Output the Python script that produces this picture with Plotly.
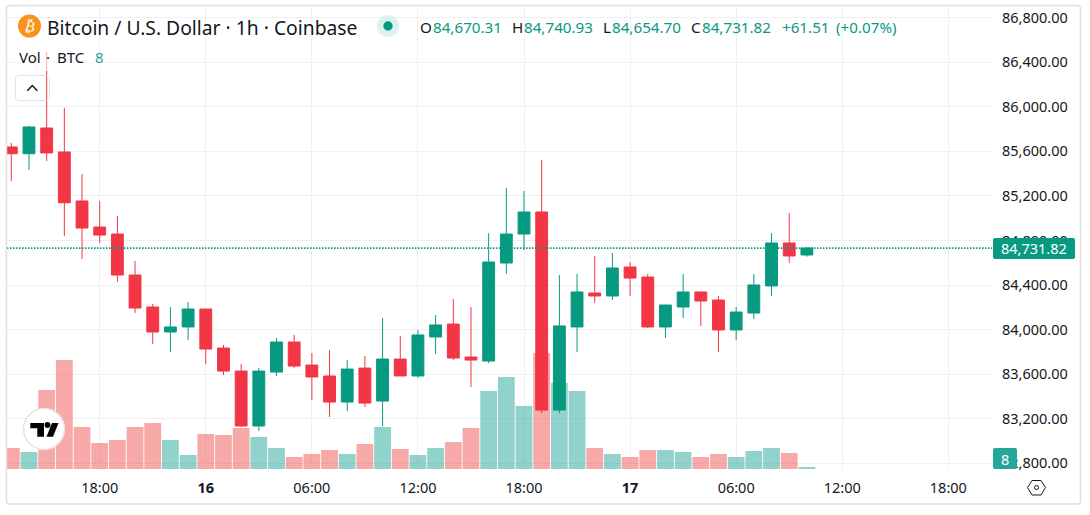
#!/usr/bin/env python
# coding: utf-8

import plotly.graph_objects as go

### Data ###
hours = [
    "2025-03-15 13:00", "2025-03-15 14:00", "2025-03-15 15:00", "2025-03-15 16:00", "2025-03-15 17:00",
    "2025-03-15 18:00", "2025-03-15 19:00", "2025-03-15 20:00", "2025-03-15 21:00", "2025-03-15 22:00",
    "2025-03-15 23:00", "2025-03-16 00:00", "2025-03-16 01:00", "2025-03-16 02:00", "2025-03-16 03:00",
    "2025-03-16 04:00", "2025-03-16 05:00", "2025-03-16 06:00", "2025-03-16 07:00", "2025-03-16 08:00",
    "2025-03-16 09:00", "2025-03-16 10:00", "2025-03-16 11:00", "2025-03-16 12:00", "2025-03-16 13:00",
    "2025-03-16 14:00", "2025-03-16 15:00", "2025-03-16 16:00", "2025-03-16 17:00", "2025-03-16 18:00",
    "2025-03-16 19:00", "2025-03-16 20:00", "2025-03-16 21:00", "2025-03-16 22:00", "2025-03-16 23:00",
    "2025-03-17 00:00", "2025-03-17 01:00", "2025-03-17 02:00", "2025-03-17 03:00", "2025-03-17 04:00",
    "2025-03-17 05:00", "2025-03-17 06:00", "2025-03-17 07:00", "2025-03-17 08:00", "2025-03-17 09:00",
    "2025-03-17 10:00",
]
opens = [85640, 85579, 85810, 85595, 85155, 84921, 84858, 84490, 84203, 83979, 84024, 84185, 83835, 83628, 83135, 83619,
         83889, 83682, 83584, 83350, 83655, 83359, 83736, 83584, 83934, 84050, 83754, 83718, 84598, 84858, 85056, 83278,
         84024, 84329, 84302, 84562, 84472, 84024, 84203, 84338, 84266, 83997, 84149, 84392, 84778, 84670.31]
highs = [85675, 85828, 86492, 85990, 85397, 85155, 85020, 84616, 84230, 84203, 84248, 84185, 83862, 83691, 83655, 83925,
         83952, 83790, 83817, 83727, 83763, 84104, 83943, 83997, 84131, 84275, 84203, 84867, 85271, 85244, 85523, 84490,
         84499, 84661, 84688, 84607, 84499, 84221, 84499, 84338, 84302, 84203, 84499, 84867, 85047, 84740.93]
lows = [85334, 85433, 85514, 84840, 84634, 84778, 84428, 84149, 83871, 83799, 83907, 83691, 83593, 83126, 83090, 83584,
        83655, 83368, 83216, 83269, 83305, 83135, 83584, 83566, 83781, 83727, 83485, 83700, 84499, 84715, 83251, 83251,
        83799, 84239, 84266, 84302, 84015, 83925, 84104, 84033, 83799, 83907, 84095, 84302, 84598, 84654.70]
closes = [85579, 85819, 85586, 85139, 84912, 84849, 84490, 84194, 83979, 84024, 84185, 83826, 83628, 83135, 83628, 83889,
          83673, 83575, 83350, 83646, 83341, 83736, 83584, 83952, 84042, 83745, 83727, 84607, 84858, 85056, 83278, 84033,
          84338, 84302, 84553, 84463, 84024, 84221, 84338, 84257, 83997, 84158, 84401, 84778, 84661, 84731.82]
volumes = [84, 68, 316, 436, 168, 104, 116, 168, 184, 116, 56, 140, 136, 164, 128, 84, 48, 60, 76, 60, 100, 168, 80, 56,
           84, 108, 164, 312, 368, 252, 464, 344, 312, 84, 60, 48, 76, 76, 68, 48, 60, 48, 72, 84, 64, 8]

price_ticks = [82800, 83200, 83600, 84000, 84400, 84800, 85200, 85600, 86000, 86400, 86800]
time_ticks = ["2025-03-15 18:00", "2025-03-16 00:00", "2025-03-16 06:00", "2025-03-16 12:00", "2025-03-16 18:00",
              "2025-03-17 00:00", "2025-03-17 06:00", "2025-03-17 12:00", "2025-03-17 18:00"]
time_labels = ["18:00", "<b>16</b>", "06:00", "12:00", "18:00", "<b>17</b>", "06:00", "12:00", "18:00"]
last_price = 84731.82
last_volume = "8"

### Layout constants, pixels of the 1090x515 page ###
WIDTH, HEIGHT = 1090, 515
LEFT, RIGHT, TOP, BOTTOM = 7, 992, 6, 469
FONT = "Noto Sans"
INK = "#131722"
GREEN = "#089981"
RED = "#F23645"


def X(px):
    return (px - LEFT) / (RIGHT - LEFT)


def Y(py):
    return (BOTTOM - py) / (BOTTOM - TOP)


def path(points, close=True):
    s = "M " + " L ".join(f"{X(a)},{Y(b)}" for a, b in points)
    return s + (" Z" if close else "")


def round_rect(x0, y0, x1, y1, r):
    return (f"M {X(x0 + r)},{Y(y0)} L {X(x1 - r)},{Y(y0)} Q {X(x1)},{Y(y0)} {X(x1)},{Y(y0 + r)} "
            f"L {X(x1)},{Y(y1 - r)} Q {X(x1)},{Y(y1)} {X(x1 - r)},{Y(y1)} "
            f"L {X(x0 + r)},{Y(y1)} Q {X(x0)},{Y(y1)} {X(x0)},{Y(y1 - r)} "
            f"L {X(x0)},{Y(y0 + r)} Q {X(x0)},{Y(y0)} {X(x0 + r)},{Y(y0)} Z")


def shape_path(d, fill=None, line=None, width=1):
    return dict(type="path", path=d, xref="paper", yref="paper", fillcolor=fill or "rgba(0,0,0,0)",
                line=dict(color=line or "rgba(0,0,0,0)", width=width if line else 0))


def circle(cx, cy, r, fill=None, line=None, width=1):
    return dict(type="circle", xref="paper", yref="paper", x0=X(cx - r), x1=X(cx + r), y0=Y(cy + r), y1=Y(cy - r),
                fillcolor=fill or "rgba(0,0,0,0)", line=dict(color=line or "rgba(0,0,0,0)", width=width if line else 0))


def label(px, py, text, color=INK, size=14, anchor="left", **kw):
    return dict(x=X(px), y=Y(py), xref="paper", yref="paper", text=text, showarrow=False, xanchor=anchor,
                yanchor="middle", borderpad=0, font=dict(family=kw.pop("family", FONT), size=size, color=color), **kw)


### Figure ###
fig = go.Figure()

vol_colors = ["rgba(38,166,154,0.5)" if c >= o else "rgba(239,83,80,0.5)" for o, c in zip(opens, closes)]
fig.add_trace(go.Bar(x=hours, y=volumes, marker=dict(color=vol_colors, line=dict(width=0)),
                     width=0.95 * 3600000, yaxis="y", hoverinfo="skip"))
fig.add_trace(go.Candlestick(x=hours, open=opens, high=highs, low=lows, close=closes, yaxis="y2", whiskerwidth=0,
                             increasing=dict(line=dict(color=GREEN, width=1), fillcolor=GREEN),
                             decreasing=dict(line=dict(color=RED, width=1), fillcolor=RED)))

shapes = [
    # last price line
    dict(type="line", xref="paper", yref="y2", x0=0, x1=1, y0=last_price, y1=last_price,
         line=dict(color=GREEN, width=1.6, dash="1.5px,1.5px")),
    # legend veil over the candles
    shape_path(round_rect(15, 46, 107, 71, 2), fill="rgba(255,255,255,0.6)"),
    # collapse button
    shape_path(round_rect(15.5, 75.5, 49.5, 100.5, 3), line="#e0e3eb", width=1),
    shape_path(path([(27.3, 90.7), (32.3, 85.5), (37.3, 90.7)], close=False), line=INK, width=1.5),
    # bitcoin icon and status dot
    circle(29.5, 26, 11.5, fill="#F7931A"),
    circle(388, 26, 11, fill="#DDF1EE"),
    circle(388, 26, 4.7, fill=GREEN),
    # tradingview badge
    circle(44, 429, 20.5, fill="#ffffff", line="#e6e6e6", width=1.5),
    shape_path(path([(30.3, 423), (44, 423), (44, 436.7), (37.3, 436.7), (37.3, 428.3), (30.3, 428.3)]), fill="#000000"),
    circle(47.5, 425, 2.9, fill="#000000"),
    shape_path(path([(52, 423), (58.5, 423), (53, 436.7), (46.5, 436.7)]), fill="#000000"),
    # axis tags
    shape_path(round_rect(993, 238, 1075, 259, 2), fill=GREEN),
    shape_path(round_rect(993, 448, 1017, 469, 2), fill="#26A69A"),
    # settings hexagon
    shape_path(path([(1027.5, 487.5), (1032, 480.5), (1041, 480.5), (1045.5, 487.5), (1041, 495), (1032, 495)]),
               line=INK, width=1),
    circle(1036.5, 487.5, 2, line=INK, width=1),
    # chart frame
    shape_path(round_rect(6.5, 5.5, 1080.5, 504, 3), line="#e0e0e0", width=1.5),
]

annotations = [
    label(29.5, 26.5, "₿", color="#ffffff", size=15, anchor="center", family="DejaVu Sans", textangle=14),
    label(46, 27, "Bitcoin / U.S. Dollar · 1h · Coinbase", size=19.3),
    label(419, 27, "O", size=15.2),
    label(431.5, 27, f"{opens[-1]:,.2f}", color=GREEN, size=15.2),
    label(510.5, 27, "H", size=15.2),
    label(522.5, 27, f"{highs[-1]:,.2f}", color=GREEN, size=15.2),
    label(601.5, 27, "L", size=15.2),
    label(611, 27, f"{lows[-1]:,.2f}", color=GREEN, size=15.2),
    label(690, 27, "C", size=15.2),
    label(701, 27, f"{closes[-1]:,.2f}", color=GREEN, size=15.2),
    label(781, 27, "+61.51", color=GREEN, size=15.2),
    label(835, 27, "(+0.07%)", color=GREEN, size=15.2),
    label(18, 57, "Vol", size=15),
    label(45, 57, "·", size=15),
    label(56, 57, "BTC", size=15),
    label(94, 57, last_volume, color="#26A69A", size=15),
    label(1034, 248, f"{last_price:,.2f}", color="#ffffff", anchor="center", size=14.5),
    label(1005, 459, last_volume, color="#ffffff", anchor="center", size=14.5),
]

fig.update_layout(
    width=WIDTH, height=HEIGHT,
    margin=dict(l=LEFT, r=WIDTH - RIGHT, t=TOP, b=HEIGHT - BOTTOM, pad=0),
    paper_bgcolor="#ffffff", plot_bgcolor="#ffffff",
    showlegend=False, boxgap=0.33, boxgroupgap=0,
    font=dict(family=FONT, size=14, color=INK),
    shapes=shapes, annotations=annotations,
    xaxis=dict(type="date", range=["2025-03-15 12:45:24", "2025-03-17 20:28:12"], rangeslider=dict(visible=False),
               tickmode="array", tickvals=time_ticks, ticktext=time_labels, tickangle=0, ticks="", ticklabelstandoff=8,
               showgrid=True, gridcolor="#f0f0f0", gridwidth=1, zeroline=False, showline=False,
               tickfont=dict(family=FONT, size=14.5, color=INK)),
    yaxis=dict(range=[0, 1852], visible=False, showgrid=False, zeroline=False),
    yaxis2=dict(overlaying="y", side="right", range=[82749, 86905], tickmode="array", tickvals=price_ticks,
                tickformat=",.2f", ticks="", ticklabelstandoff=9, showgrid=True, gridcolor="#f0f0f0", gridwidth=1,
                zeroline=False, showline=False, tickfont=dict(family=FONT, size=14.5, color=INK)),
)

# page margin off, the frame sits closer to the corner than the default body margin
fig.write_html("out.html", config=dict(displayModeBar=False), post_script="document.body.style.margin='0';")
